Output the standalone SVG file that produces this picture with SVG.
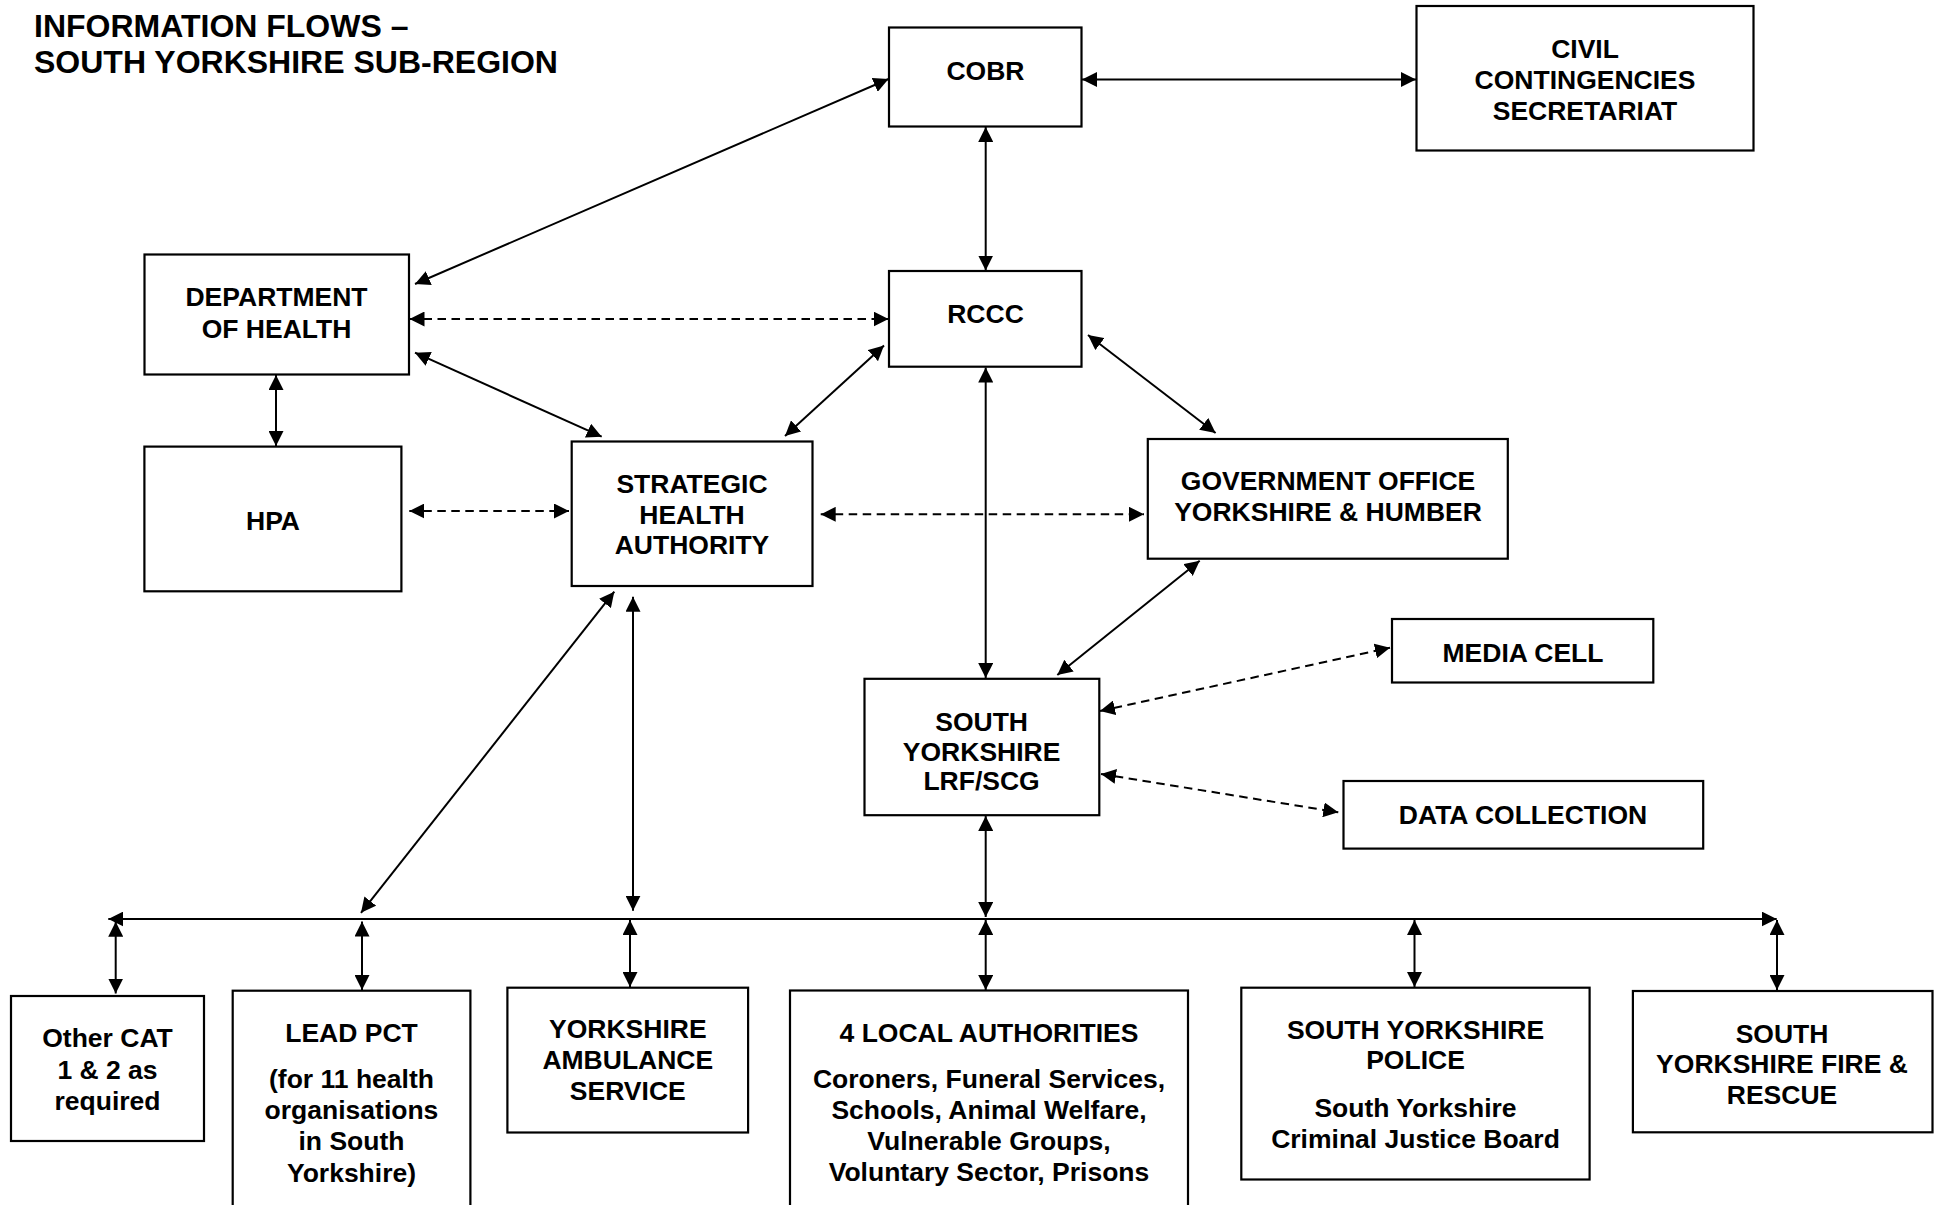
<svg xmlns="http://www.w3.org/2000/svg" width="1936" height="1205" viewBox="0 0 1936 1205">
<style>
.box{fill:#fff;stroke:#000;stroke-width:2.2}
.t{font-family:"Liberation Sans",Arial,sans-serif;font-weight:bold;font-size:26.5px;fill:#000;text-anchor:middle}
.title{font-family:"Liberation Sans",Arial,sans-serif;font-weight:bold;font-size:32px;fill:#000}
.c{stroke:#000;stroke-width:2;fill:none;marker-start:url(#a);marker-end:url(#a)}
.d{stroke-dasharray:8.5 5.5}
</style>
<defs>
<marker id="a" viewBox="0 0 15 15" refX="15" refY="7.5" markerWidth="15" markerHeight="15" markerUnits="userSpaceOnUse" orient="auto-start-reverse"><path d="M0,0L15,7.5L0,15z" fill="#000"/></marker>
</defs>
<rect width="1936" height="1205" fill="#fff"/>
<g id="title">
<text class="title" x="34" y="37">INFORMATION FLOWS –</text>
<text class="title" x="34" y="72.7">SOUTH YORKSHIRE SUB-REGION</text>
</g>
<g id="connectors">
<line class="c" x1="415" y1="284" x2="888.5" y2="79"/>
<line class="c" x1="1082" y1="79.5" x2="1416" y2="79.5"/>
<line class="c" x1="985.7" y1="127" x2="985.7" y2="270.5"/>
<line class="c d" x1="409.5" y1="319" x2="888.5" y2="319"/>
<line class="c" x1="415" y1="352.7" x2="601.7" y2="436.7"/>
<line class="c" x1="785" y1="436" x2="884" y2="345.5"/>
<line class="c" x1="1088" y1="335" x2="1215.6" y2="433"/>
<line class="c" x1="276" y1="375" x2="276" y2="446"/>
<line class="c d" x1="409.3" y1="511" x2="569" y2="511"/>
<line class="c d" x1="820.7" y1="514.3" x2="1144" y2="514.3"/>
<line class="c" x1="985.7" y1="367.5" x2="985.7" y2="678"/>
<line class="c" x1="1199.7" y1="560.7" x2="1057.3" y2="675"/>
<line class="c d" x1="1100" y1="711" x2="1390" y2="647.7"/>
<line class="c d" x1="1101" y1="774" x2="1338.3" y2="812.3"/>
<line class="c" x1="614.3" y1="591.7" x2="361" y2="912.8"/>
<line class="c" x1="633" y1="596.7" x2="633" y2="910.8"/>
<line class="c" x1="108.3" y1="919" x2="1776.7" y2="919"/>
<line class="c" x1="115.7" y1="921.7" x2="115.7" y2="993.5"/>
<line class="c" x1="362" y1="921.5" x2="362" y2="990"/>
<line class="c" x1="630" y1="920" x2="630" y2="987"/>
<line class="c" x1="985.7" y1="816" x2="985.7" y2="917"/>
<line class="c" x1="985.7" y1="920" x2="985.7" y2="990"/>
<line class="c" x1="1414.5" y1="920" x2="1414.5" y2="987"/>
<line class="c" x1="1777" y1="920" x2="1777" y2="990"/>
</g>
<g id="node-cobr"><rect class="box" x="889" y="27.5" width="192.5" height="99"/><text class="t" x="985.5" y="80">COBR</text></g>
<g id="node-ccs"><rect class="box" x="1416.5" y="6" width="337" height="144.5"/><text class="t" x="1585" y="57.5">CIVIL</text><text class="t" x="1585" y="88.5">CONTINGENCIES</text><text class="t" x="1585" y="119.5">SECRETARIAT</text></g>
<g id="node-doh"><rect class="box" x="144.5" y="254.5" width="264.5" height="120"/><text class="t" x="276.5" y="306">DEPARTMENT</text><text class="t" x="276.5" y="338">OF HEALTH</text></g>
<g id="node-rccc"><rect class="box" x="889" y="271" width="192.5" height="95.7"/><text class="t" x="985.5" y="323">RCCC</text></g>
<g id="node-hpa"><rect class="box" x="144.4" y="446.6" width="257" height="144.7"/><text class="t" x="273" y="530">HPA</text></g>
<g id="node-sha"><rect class="box" x="571.7" y="441.5" width="240.8" height="144.5"/><text class="t" x="692" y="492.5">STRATEGIC</text><text class="t" x="692" y="523.5">HEALTH</text><text class="t" x="692" y="554.3">AUTHORITY</text></g>
<g id="node-go"><rect class="box" x="1147.8" y="439" width="360" height="119.7"/><text class="t" x="1328" y="490">GOVERNMENT OFFICE</text><text class="t" x="1328" y="521">YORKSHIRE &amp; HUMBER</text></g>
<g id="node-media"><rect class="box" x="1392" y="619" width="261.3" height="63.5"/><text class="t" x="1523" y="661.7">MEDIA CELL</text></g>
<g id="node-lrf"><rect class="box" x="864.5" y="678.8" width="234.8" height="136.4"/><text class="t" x="981.6" y="730.7">SOUTH</text><text class="t" x="981.6" y="760.5">YORKSHIRE</text><text class="t" x="981.6" y="790.4">LRF/SCG</text></g>
<g id="node-data"><rect class="box" x="1343.5" y="781" width="359.7" height="67.6"/><text class="t" x="1523" y="824">DATA COLLECTION</text></g>
<g id="node-othercat"><rect class="box" x="11" y="996" width="193" height="145"/><text class="t" x="107.5" y="1047">Other CAT</text><text class="t" x="107.5" y="1079">1 &amp; 2 as</text><text class="t" x="107.5" y="1110">required</text></g>
<g id="node-leadpct"><rect class="box" x="232.7" y="990.7" width="237.7" height="230"/><text class="t" x="351.5" y="1042.3">LEAD PCT</text><text class="t" x="351.5" y="1088">(for 11 health</text><text class="t" x="351.5" y="1119">organisations</text><text class="t" x="351.5" y="1150">in South</text><text class="t" x="351.5" y="1181.5">Yorkshire)</text></g>
<g id="node-yas"><rect class="box" x="507.4" y="987.7" width="240.7" height="144.8"/><text class="t" x="627.8" y="1038.3">YORKSHIRE</text><text class="t" x="627.8" y="1069.4">AMBULANCE</text><text class="t" x="627.8" y="1100">SERVICE</text></g>
<g id="node-la"><rect class="box" x="790" y="990.5" width="398" height="230"/><text class="t" x="989" y="1042.3">4 LOCAL AUTHORITIES</text><text class="t" x="989" y="1088">Coroners, Funeral Services,</text><text class="t" x="989" y="1119">Schools, Animal Welfare,</text><text class="t" x="989" y="1150">Vulnerable Groups,</text><text class="t" x="989" y="1181">Voluntary Sector, Prisons</text></g>
<g id="node-police"><rect class="box" x="1241.3" y="987.7" width="348.3" height="191.8"/><text class="t" x="1415.5" y="1039">SOUTH YORKSHIRE</text><text class="t" x="1415.5" y="1069.4">POLICE</text><text class="t" x="1415.5" y="1117">South Yorkshire</text><text class="t" x="1415.5" y="1148">Criminal Justice Board</text></g>
<g id="node-fire"><rect class="box" x="1632.9" y="991" width="299.6" height="141.3"/><text class="t" x="1782" y="1042.5">SOUTH</text><text class="t" x="1782" y="1073">YORKSHIRE FIRE &amp;</text><text class="t" x="1782" y="1103.5">RESCUE</text></g>
</svg>
